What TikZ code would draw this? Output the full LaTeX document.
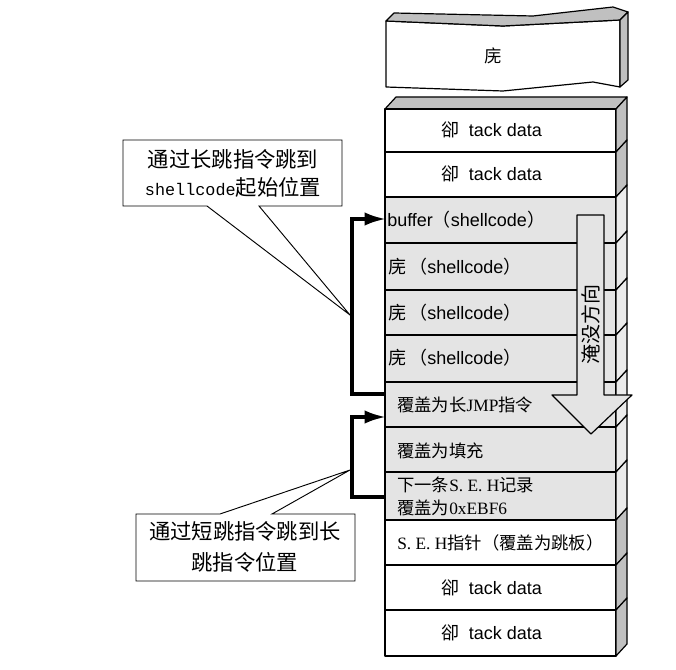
\documentclass[tikz,border=0pt]{standalone}
\usepackage{fontspec}
\setmainfont{Liberation Sans}
\newfontfamily\cjk{Noto Sans CJK SC}
\newfontfamily\serifl{Liberation Serif}
\newfontfamily\monol{Liberation Mono}
\usetikzlibrary{arrows.meta}
\definecolor{sidegray}{HTML}{C0C0C0}
\definecolor{rowgray}{HTML}{E4E4E4}
\definecolor{lightside}{HTML}{EBEBEB}
\begin{document}
\begin{tikzpicture}[x=0.75pt,y=-0.75pt,
  outl/.style={draw=black,line width=0.9pt,line join=round},
  thin outl/.style={draw=black,line width=0.7pt,line join=miter},
  rowtxt/.style={font=\fontsize{13.5pt}{16pt}\selectfont,inner sep=0pt},
  cjkrow/.style={font=\fontsize{13pt}{17pt}\selectfont,inner sep=0pt,anchor=west},
  calltxt/.style={font=\fontsize{16pt}{20pt}\selectfont,inner sep=0pt,align=center},
  jumpline/.style={draw=black,line width=2.6pt,line join=miter}
]
\useasboundingbox (0,0) rectangle (676,670);
\fill[white] (0,0) rectangle (676,670);

% broken top block
\filldraw[outl,fill=white] (386,21) -- (503,26) -- (620,20) -- (620,87) -- (593,82) -- (503,91) -- (386,87) -- cycle;
\filldraw[outl,fill=sidegray] (386,21) -- (394,13) -- (533,16) -- (613,7) -- (628,12) -- (620,20) -- (503,26) -- cycle;
\filldraw[outl,fill=sidegray] (620,20) -- (628,12) -- (628,80) -- (620,87) -- cycle;
\node[rowtxt,font=\cjk\fontsize{13pt}{16pt}\selectfont] (topblk) at (493,56) {庑};

% stack top face
\filldraw[outl,fill=sidegray] (385,109) -- (396,97) -- (627,97) -- (616,109) -- cycle;

% rows
\foreach \t/\b/\f/\s in {109/152/white/sidegray,152/197/white/sidegray,
  197/243/rowgray/lightside,243/290/rowgray/lightside,290/335/rowgray/lightside,
  335/382/rowgray/lightside,382/427/rowgray/lightside,427/472/rowgray/lightside,
  472/520/rowgray/lightside,520/565/white/sidegray,565/610/white/sidegray,
  610/656/white/sidegray}{
  \filldraw[outl,fill=\f] (385,\t) rectangle (616,\b);
  \filldraw[outl,fill=\s] (616,\t) -- (627,\t-12) -- (627,\b-12) -- (616,\b) -- cycle;
}

% row texts
\node[rowtxt] (r1) at (492,130) {{\cjk 卻}\hspace{0.5em}tack data};
\node[rowtxt] (r2) at (492,174) {{\cjk 卻}\hspace{0.5em}tack data};
\node[rowtxt,anchor=west] (r3) at (387,220) {buffer{\cjk （}shellcode{\cjk ）}};
\node[rowtxt,anchor=west] (r4) at (388,267) {{\cjk 庑}\,{\cjk （}shellcode{\cjk ）}};
\node[rowtxt,anchor=west] (r5) at (388,313) {{\cjk 庑}\,{\cjk （}shellcode{\cjk ）}};
\node[rowtxt,anchor=west] (r6) at (388,358) {{\cjk 庑}\,{\cjk （}shellcode{\cjk ）}};
\node[cjkrow] (r7) at (397,405) {{\cjk 覆盖为长}{\serifl JMP}{\cjk 指令}};
\node[cjkrow] (r8) at (397,451) {{\cjk 覆盖为填充}};
\node[cjkrow] (r9a) at (397,485) {{\cjk 下一条}{\serifl S. E. H}{\cjk 记录}};
\node[cjkrow] (r9b) at (397,508) {{\cjk 覆盖为}{\serifl 0xEBF6}};
\node[cjkrow] (r10) at (397,543) {{\serifl S. E. H}{\cjk 指针（覆盖为跳板）}};
\node[rowtxt] (r11) at (492,588) {{\cjk 卻}\hspace{0.5em}tack data};
\node[rowtxt] (r12) at (492,633) {{\cjk 卻}\hspace{0.5em}tack data};

% flooding direction arrow
\filldraw[outl,fill=rowgray] (577,215) -- (604,215) -- (604,395) -- (632,395) -- (591,434) -- (552,395) -- (577,395) -- cycle;
\node[font=\cjk\fontsize{15pt}{16pt}\selectfont,inner sep=0pt,rotate=90] (flood) at (591,325) {淹没方向};

% callouts
\filldraw[thin outl,fill=white] (123,140) -- (342,140) -- (342,206) -- (259,206) -- (350,315) -- (207,206) -- (123,206) -- cycle;
\node[calltxt] (c1) at (233,173) {{\cjk 通过长跳指令跳到}\\[1pt]{\monol\fontsize{12.6pt}{16pt}\selectfont shellcode}{\cjk 起始位置}};
\filldraw[thin outl,fill=white] (136,514) -- (220,514) -- (350,470) -- (272,514) -- (355,514) -- (355,581) -- (136,581) -- cycle;
\node[calltxt] (c2) at (245,547) {{\cjk 通过短跳指令跳到长}\\[3pt]{\cjk 跳指令位置}};

% jump connectors
\coordinate (jmpL) at (385,394);
\coordinate (bufL) at (386,219);
\coordinate (sehL) at (385,497);
\coordinate (jmpT) at (386,417);
\draw[jumpline,-{Latex[length=16pt,width=10pt]}] (jmpL) -- (352,394) -- (352,219) -- (bufL);
\draw[jumpline,-{Latex[length=16pt,width=10pt]}] (sehL) -- (352,497) -- (352,417) -- (jmpT);
\end{tikzpicture}
\end{document}
